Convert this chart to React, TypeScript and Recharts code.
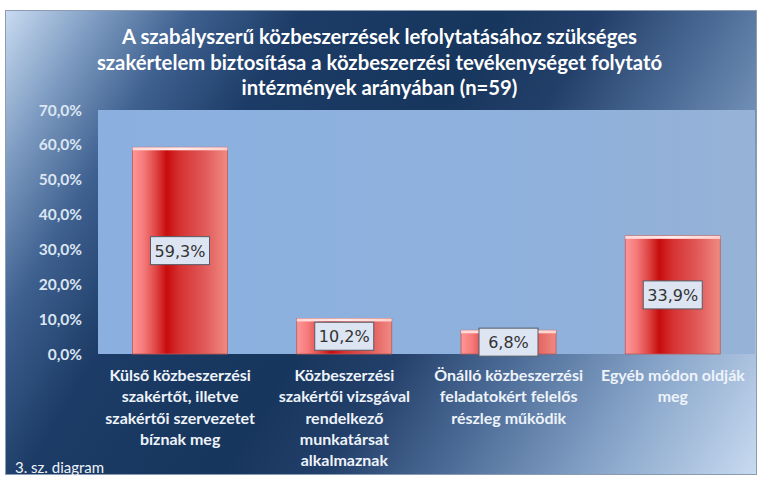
import { Bar, CartesianGrid, ComposedChart, LabelList, XAxis, YAxis } from 'recharts';

const categories = ['kulso', 'vizsga', 'onallo', 'egyeb'];
const categoryLines = [
  ['Külső közbeszerzési', 'szakértőt, illetve', 'szakértői szervezetet', 'bíznak meg'],
  ['Közbeszerzési', 'szakértői vizsgával', 'rendelkező', 'munkatársat', 'alkalmaznak'],
  ['Önálló közbeszerzési', 'feladatokért felelős', 'részleg működik'],
  ['Egyéb módon oldják', 'meg'],
];
const shares = [59.3, 10.2, 6.8, 33.9];
const yTicks = [0, 10, 20, 30, 40, 50, 60, 70];
const titleLines = [
  'A szabályszerű közbeszerzések lefolytatásához szükséges',
  'szakértelem biztosítása a közbeszerzési tevékenységet folytató',
  'intézmények arányában (n=59)',
];
const footnote = '3. sz. diagram';

const data = categories.map((key, i) => ({ key, idx: i, value: shares[i] }));

const FONT = 'Lato, "Open Sans", sans-serif';
const pct = (v: number) => v.toFixed(1).replace('.', ',') + '%';

function CylinderBar(props: any) {
  const { x, y, width, height } = props;
  if (!height || height <= 0) return null;
  return (
    <g>
      <rect x={x} y={y} width={width} height={height} fill="url(#barGrad)" stroke="#b85858" strokeWidth={0.8} />
      <rect x={x} y={y} width={width} height={3} fill="url(#capGrad)" />
    </g>
  );
}

function ValueBox(props: any) {
  const { x, y, width, height, value } = props;
  const cx = x + width / 2;
  const cy = y + height / 2;
  const w = 59;
  const h = 28;
  return (
    <g>
      <rect x={cx - w / 2} y={cy - h / 2} width={w} height={h} fill="#dde5f2" stroke="#555b66" strokeWidth={1} />
      <text x={cx} y={cy + 6} textAnchor="middle" fontFamily='"DejaVu Sans", sans-serif' fontSize={16} fill="#333">
        {pct(value)}
      </text>
    </g>
  );
}

function CategoryTick(props: any) {
  const { x, y, payload } = props;
  const lines = categoryLines[payload.index] ?? [];
  return (
    <text x={x} y={y} textAnchor="middle" fontFamily={FONT} fontWeight={700} fontSize={16} fill="#eef3fa">
      {lines.map((line, i) => (
        <tspan key={i} x={x} dy={i === 0 ? 5 : 21.3}>
          {line}
        </tspan>
      ))}
    </text>
  );
}

export default function App() {
  return (
    <div style={{ position: 'relative', width: 759, height: 477, overflow: 'hidden' }}>
      <style>{'html,body{margin:0;padding:0;overflow:hidden}'}</style>
      <div
        style={{
          position: 'absolute',
          left: 5,
          top: 10,
          width: 750,
          height: 463,
          border: '1px solid #8a9bb3',
          background:
            'linear-gradient(121deg, #c8daf0 0%, #7e9cc2 9%, #3f6190 18%, #1c3b66 29%, #17365d 48%, #223f69 58%, #4d6d98 70%, #8aa7cb 85%, #c8daf0 100%)',
        }}
      />
      <div
        style={{
          position: 'absolute',
          left: 0,
          top: 24,
          width: 759,
          textAlign: 'center',
          fontFamily: FONT,
          fontWeight: 700,
          fontSize: 20.3,
          lineHeight: '25.5px',
          color: '#ffffff',
        }}
      >
        {titleLines.map((t) => (
          <div key={t}>{t}</div>
        ))}
      </div>
      <div style={{ position: 'absolute', left: 0, top: 0 }}>
        <ComposedChart width={759} height={477} data={data} margin={{ top: 110, right: 4, bottom: 0, left: 0 }} barCategoryGap="21%">
          <defs>
            <linearGradient id="barGrad" x1="0" y1="0" x2="1" y2="0">
              <stop offset="0%" stopColor="#ff9696" />
              <stop offset="12%" stopColor="#f57a7a" />
              <stop offset="24%" stopColor="#e04848" />
              <stop offset="36%" stopColor="#c80c0c" />
              <stop offset="50%" stopColor="#d63232" />
              <stop offset="75%" stopColor="#e05858" />
              <stop offset="100%" stopColor="#f08a82" />
            </linearGradient>
            <linearGradient id="capGrad" x1="0" y1="0" x2="1" y2="0">
              <stop offset="0%" stopColor="#ffd6d6" />
              <stop offset="50%" stopColor="#ffecec" />
              <stop offset="100%" stopColor="#ffd0cc" />
            </linearGradient>
            <linearGradient id="plotGrad" x1="0" y1="0" x2="1" y2="0">
              <stop offset="0%" stopColor="#8bb0e0" />
              <stop offset="70%" stopColor="#8fb1dc" />
              <stop offset="100%" stopColor="#96b2d6" />
            </linearGradient>
          </defs>
          <CartesianGrid horizontal={false} vertical={false} fill="url(#plotGrad)" />
          <XAxis
            dataKey="key"
            height={123}
            axisLine={false}
            tickLine={false}
            tickSize={0}
            tickMargin={22}
            interval={0}
            tick={<CategoryTick />}
          />
          <YAxis
            width={98}
            domain={[0, 70]}
            ticks={yTicks}
            tickFormatter={(v: number) => pct(v)}
            axisLine={false}
            tickLine={false}
            tickSize={0}
            tickMargin={16}
            tick={{ fill: '#dce6f2', fontSize: 15.5, fontWeight: 700, fontFamily: FONT }}
          />
          <Bar dataKey="value" shape={<CylinderBar />} isAnimationActive={false}>
            <LabelList dataKey="value" content={<ValueBox />} />
          </Bar>
        </ComposedChart>
      </div>
      <div
        style={{
          position: 'absolute',
          left: 15,
          top: 457,
          fontFamily: FONT,
          fontSize: 15,
          lineHeight: '20px',
          color: '#eef3fa',
        }}
      >
        {footnote}
      </div>
    </div>
  );
}
